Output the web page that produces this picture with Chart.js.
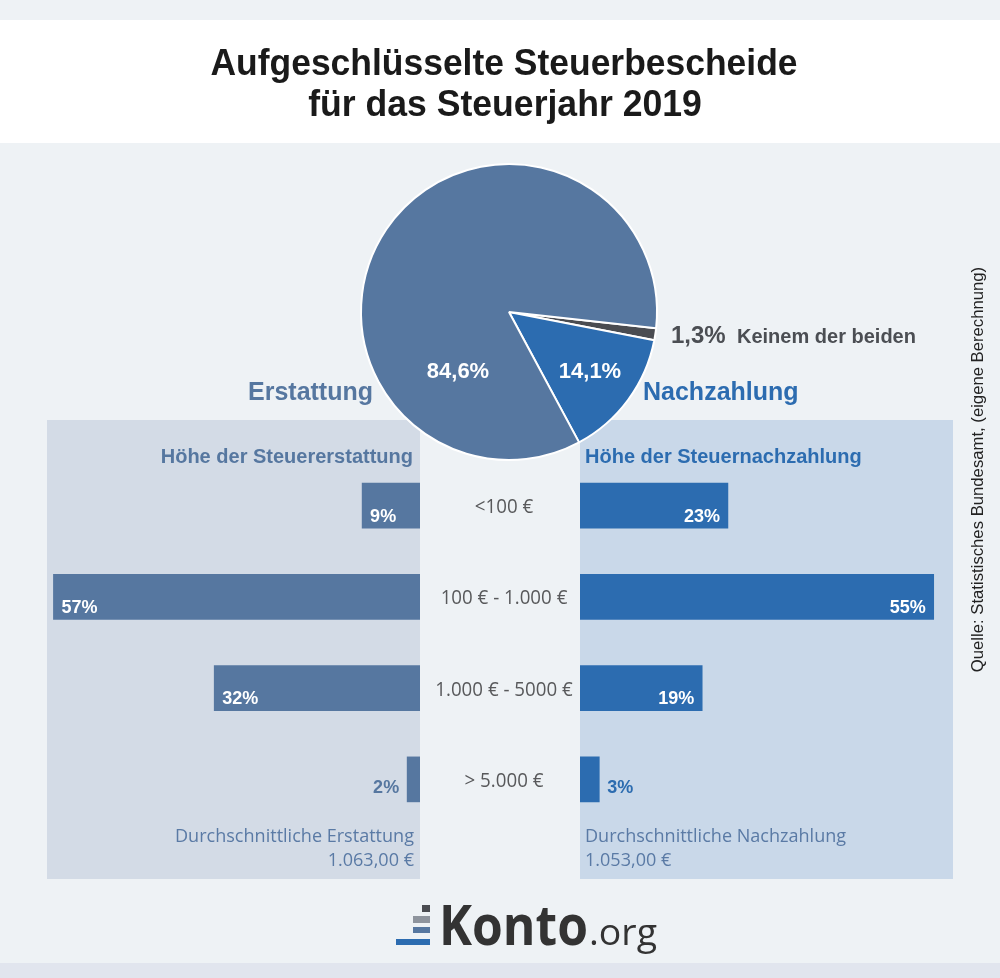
<!DOCTYPE html>
<html lang="de">
<head>
<meta charset="utf-8">
<title>Aufgeschlüsselte Steuerbescheide 2019</title>
<script src="https://cdn.jsdelivr.net/npm/chart.js@4/dist/chart.umd.min.js"></script>
<style>
  html, body { margin: 0; padding: 0; }
  body { width: 1000px; height: 978px; position: relative; overflow: hidden; background: #eef2f5; }
  .abs { position: absolute; }
  #titleBand { left: 0; top: 20px; width: 1000px; height: 123px; background: #ffffff; }
  #bottomStrip { left: 0; top: 963px; width: 1000px; height: 15px; background: #e1e5ee; }
  #panelL { left: 47px; top: 420px; width: 373px; height: 459px; background: #d3dbe6; }
  #panelR { left: 580px; top: 420px; width: 373px; height: 459px; background: #c9d8e9; }
  #barsL { left: 47px; top: 460px; }
  #barsR { left: 580px; top: 460px; }
  #pie { left: 354px; top: 157px; }
  #overlay { left: 0; top: 0; pointer-events: none; }
  .logo-bar { position: absolute; }
</style>
</head>
<body>
<div id="titleBand" class="abs"></div>
<div id="bottomStrip" class="abs"></div>
<div id="panelL" class="abs"></div>
<div id="panelR" class="abs"></div>
<canvas id="barsL" class="abs" width="373" height="365"></canvas>
<canvas id="barsR" class="abs" width="373" height="365"></canvas>
<canvas id="pie" class="abs" width="310" height="310"></canvas>
<div class="logo-bar" style="left:422px;top:905px;width:8px;height:7px;background:#4a4c51"></div>
<div class="logo-bar" style="left:413px;top:916px;width:17px;height:7px;background:#8e949d"></div>
<div class="logo-bar" style="left:413px;top:927px;width:17px;height:6px;background:#5677a0"></div>
<div class="logo-bar" style="left:396px;top:939px;width:34px;height:6px;background:#2c6cb0"></div>
<svg id="overlay" class="abs" width="1000" height="978" xmlns="http://www.w3.org/2000/svg"></svg>
<script>
// ---------------- DATA ----------------
const titleLines = ['Aufgeschlüsselte Steuerbescheide', 'für das Steuerjahr 2019'];
const pieLabels = ['Keinem der beiden', 'Nachzahlung', 'Erstattung'];
const pieShares = [1.3, 14.1, 84.6];
const categories = ['<100 €', '100 € - 1.000 €', '1.000 € - 5000 €', '> 5.000 €'];
const refundShares = [9, 57, 32, 2];
const backPayShares = [23, 55, 19, 3];
const refundHeader = 'Höhe der Steuererstattung';
const backPayHeader = 'Höhe der Steuernachzahlung';
const avgRefundLabel = 'Durchschnittliche Erstattung';
const avgRefundValue = '1.063,00 €';
const avgBackPayLabel = 'Durchschnittliche Nachzahlung';
const avgBackPayValue = '1.053,00 €';
const sourceText = 'Quelle: Statistisches Bundesamt, (eigene Berechnung)';

// ---------------- STYLE ----------------
const COL_REFUND = '#5677a0';
const COL_BACKPAY = '#2c6cb0';
const COL_NONE = '#4a4c51';
const ARIAL = '"Liberation Sans", Arial, Helvetica, sans-serif';
const SANS = '"Open Sans", "Noto Sans", sans-serif';
const fmtPct = v => v.toFixed(1).replace('.', ',') + '%';

Chart.defaults.devicePixelRatio = 1;

// ---------------- SVG TEXT HELPER ----------------
const NS = 'http://www.w3.org/2000/svg';
const svg = document.getElementById('overlay');
function addText(x, y, str, o) {
  const t = document.createElementNS(NS, 'text');
  t.setAttribute('x', x);
  t.setAttribute('y', y);
  t.setAttribute('text-anchor', o.anchor || 'start');
  t.setAttribute('font-family', o.family || ARIAL);
  t.setAttribute('font-size', o.size);
  t.setAttribute('font-weight', o.weight || 'normal');
  t.setAttribute('fill', o.color || '#000');
  if (o.transform) t.setAttribute('transform', o.transform);
  t.textContent = str;
  svg.appendChild(t);
  if (o.squeeze) {
    const w = t.getComputedTextLength();
    t.setAttribute('textLength', (w * o.squeeze).toFixed(1));
    t.setAttribute('lengthAdjust', 'spacingAndGlyphs');
  }
  return t;
}

// ---------------- BAR VALUE LABEL PLUGIN ----------------
const barValueLabels = {
  id: 'barValueLabels',
  afterDatasetsDraw(chart) {
    const cfg = chart.options.plugins.barValueLabels;
    const ds = chart.data.datasets[0];
    const meta = chart.getDatasetMeta(0);
    const ctx = chart.ctx;
    ctx.save();
    ctx.font = 'bold 18px ' + ARIAL;
    ctx.textBaseline = 'alphabetic';
    meta.data.forEach((bar, i) => {
      const v = ds.data[i];
      const txt = v + '%';
      const inside = v >= 5;
      const leftSide = cfg.side === 'left';
      let x, align;
      if (leftSide) {
        if (inside) { x = bar.x + 8; align = 'left'; } else { x = bar.x - 8; align = 'right'; }
      } else {
        if (inside) { x = bar.x - 8; align = 'right'; } else { x = bar.x + 8; align = 'left'; }
      }
      ctx.textAlign = align;
      ctx.fillStyle = inside ? '#ffffff' : ds.backgroundColor;
      ctx.fillText(txt, x, bar.y + (inside ? 16 : 14));
    });
    ctx.restore();
  }
};

function barChart(id, values, color, side) {
  return new Chart(document.getElementById(id), {
    type: 'bar',
    data: {
      labels: categories,
      datasets: [{ data: values, backgroundColor: color, borderWidth: 0, barThickness: 45 }]
    },
    options: {
      indexAxis: 'y',
      responsive: false,
      animation: false,
      events: [],
      layout: { padding: 0 },
      plugins: {
        legend: { display: false },
        tooltip: { enabled: false },
        barValueLabels: { side: side }
      },
      scales: {
        x: { display: false, min: 0, max: 58, reverse: side === 'left' },
        y: { display: false }
      }
    },
    plugins: [barValueLabels]
  });
}

const chartL = barChart('barsL', refundShares, COL_REFUND, 'left');
const chartR = barChart('barsR', backPayShares, COL_BACKPAY, 'right');

// ---------------- PIE ----------------
new Chart(document.getElementById('pie'), {
  type: 'pie',
  data: {
    labels: pieLabels,
    datasets: [{
      data: pieShares,
      backgroundColor: [COL_NONE, COL_BACKPAY, COL_REFUND],
      borderColor: '#ffffff',
      borderWidth: 2
    }]
  },
  options: {
    responsive: false,
    animation: false,
    events: [],
    rotation: 96.3,
    radius: 148,
    layout: { padding: 0 },
    plugins: { legend: { display: false }, tooltip: { enabled: false } }
  }
});

// ---------------- TEXT ----------------
addText(504, 75, titleLines[0], { anchor: 'middle', size: 37, weight: 'bold', color: '#1a1a1a', squeeze: 0.958 });
addText(505, 116, titleLines[1], { anchor: 'middle', size: 37, weight: 'bold', color: '#1a1a1a', squeeze: 0.962 });

// pie annotations
addText(458, 378, fmtPct(pieShares[2]), { anchor: 'middle', size: 22, weight: 'bold', color: '#ffffff' });
addText(590, 378, fmtPct(pieShares[1]), { anchor: 'middle', size: 22, weight: 'bold', color: '#ffffff' });
addText(671, 343, fmtPct(pieShares[0]), { size: 24, weight: 'bold', color: '#4b4e53' });
addText(737, 343, pieLabels[0], { size: 20, weight: 'bold', color: '#4b4e53' });
addText(248, 400, pieLabels[2], { size: 25, weight: 'bold', color: COL_REFUND });
addText(643, 400, pieLabels[1], { size: 25, weight: 'bold', color: COL_BACKPAY });

// panel headers
addText(413, 463, refundHeader, { anchor: 'end', size: 20, weight: 'bold', color: COL_REFUND });
addText(585, 463, backPayHeader, { size: 20, weight: 'bold', color: COL_BACKPAY });

// category labels, placed on the bar chart's own category scale
const yScale = chartL.scales.y;
const topOffset = 460;
categories.forEach((c, i) => {
  const y = topOffset + yScale.getPixelForValue(i);
  addText(504, y + 7.5, c, { anchor: 'middle', family: SANS, size: 19.5, color: '#58595b', squeeze: 0.96 });
});

// averages
addText(414, 842, avgRefundLabel, { anchor: 'end', family: SANS, size: 19, color: '#5a7aa5', squeeze: 0.95 });
addText(414, 866, avgRefundValue, { anchor: 'end', family: SANS, size: 19, color: '#5a7aa5', squeeze: 0.95 });
addText(585, 842, avgBackPayLabel, { family: SANS, size: 19, color: '#5a7aa5', squeeze: 0.95 });
addText(585, 866, avgBackPayValue, { family: SANS, size: 19, color: '#5a7aa5', squeeze: 0.95 });

// source (vertical)
addText(0, 0, sourceText, { anchor: 'middle', size: 16.7, color: '#222222', transform: 'translate(983,469.5) rotate(-90)' });

// logo
const k = addText(439, 945, 'Konto', { family: SANS, size: 56, weight: 'bold', color: '#333333' });
const kw = k.getComputedTextLength();
k.setAttribute('textLength', 149); k.setAttribute('lengthAdjust', 'spacingAndGlyphs');
const org = addText(589, 945, '.org', { family: SANS, size: 36, color: '#333333' });
org.setAttribute('textLength', 68); org.setAttribute('lengthAdjust', 'spacingAndGlyphs');
</script>
</body>
</html>
